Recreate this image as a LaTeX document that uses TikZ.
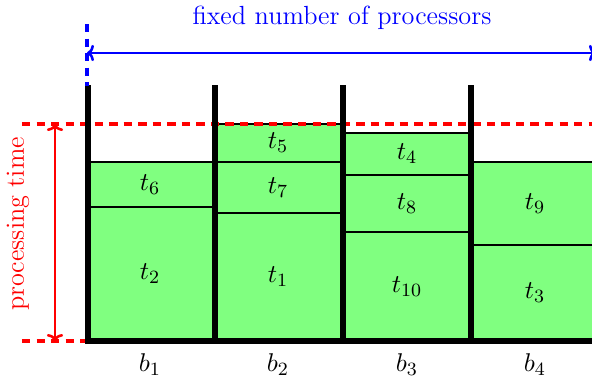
\documentclass[tikz,border=0pt]{standalone}
\usetikzlibrary{arrows.meta}
\begin{document}
\begin{tikzpicture}[x=0.015cm,y=-0.015cm,
  font=\fontsize{11.2}{13.5}\selectfont,
  task/.style={fill=green!50,draw=black,line width=0.5pt},
  wall/.style={line width=0.09cm,line cap=rect},
  reddash/.style={red,dashed,line width=1.3pt,dash pattern=on 3.6pt off 2.6pt},
  bluedash/.style={blue,line width=1.3pt,dash pattern=on 3.6pt off 2.6pt},
  redarrow/.style={red,line width=1.1pt,{To[length=3pt,width=7pt]}-{To[length=3pt,width=7pt]}},
  bluearrow/.style={blue,line width=1.1pt,{To[length=3pt,width=7pt]}-{To[length=3pt,width=7pt]}},
  lbl/.style={inner sep=0pt}]
\useasboundingbox (0,0) rectangle (592,378);
\clip (0,0) rectangle (592,378);
% tasks
\draw[task] (88,341) rectangle (215,207);
\draw[task] (88,207) rectangle (215,162);
\draw[task] (215,341) rectangle (343,213);
\draw[task] (215,213) rectangle (343,162);
\draw[task] (215,162) rectangle (343,124);
\draw[task] (343,341) rectangle (471,232);
\draw[task] (343,232) rectangle (471,175);
\draw[task] (343,175) rectangle (471,133);
\draw[task] (471,341) rectangle (600,245);
\draw[task] (471,245) rectangle (600,162);
\node[lbl] (t2) at (150,274) {$t_2$};
\node[lbl] (t6) at (150,184.5) {$t_6$};
\node[lbl] (t1) at (278,277) {$t_1$};
\node[lbl] (t7) at (278,187.5) {$t_7$};
\node[lbl] (t5) at (278,143) {$t_5$};
\node[lbl] (t10) at (407,286.5) {$t_{10}$};
\node[lbl] (t8) at (407,203.5) {$t_8$};
\node[lbl] (t4) at (407,154) {$t_4$};
\node[lbl] (t3) at (535,293) {$t_3$};
\node[lbl] (t9) at (535,203.5) {$t_9$};
% red dashed guides
\draw[reddash] (22,124) -- (592,124);
\draw[reddash] (22,341) -- (88,341);
% walls and floor
\foreach \x in {88,215,343,471}{\draw[wall] (\x,88) -- (\x,341);}
\draw[wall] (88,341) -- (600,341);
% bin labels
\node[lbl] (b1) at (150,365) {$b_1$};
\node[lbl] (b2) at (278,365) {$b_2$};
\node[lbl] (b3) at (407,365) {$b_3$};
\node[lbl] (b4) at (535,365) {$b_4$};
% processing time
\coordinate (pt) at (55,124);
\coordinate (pb) at (55,341);
\draw[redarrow] (pt) -- (pb);
\node[red,rotate=90,inner sep=0pt] (ptext) at (18,224) {processing time};
% processors
\draw[bluedash] (87,24) -- (87,86);
\coordinate (al) at (87,53);
\coordinate (ar) at (596,53);
\draw[bluearrow] (al) -- (ar);
\node[blue,inner sep=0pt] (ftext) at (342,18) {fixed number of processors};
\end{tikzpicture}
\end{document}
